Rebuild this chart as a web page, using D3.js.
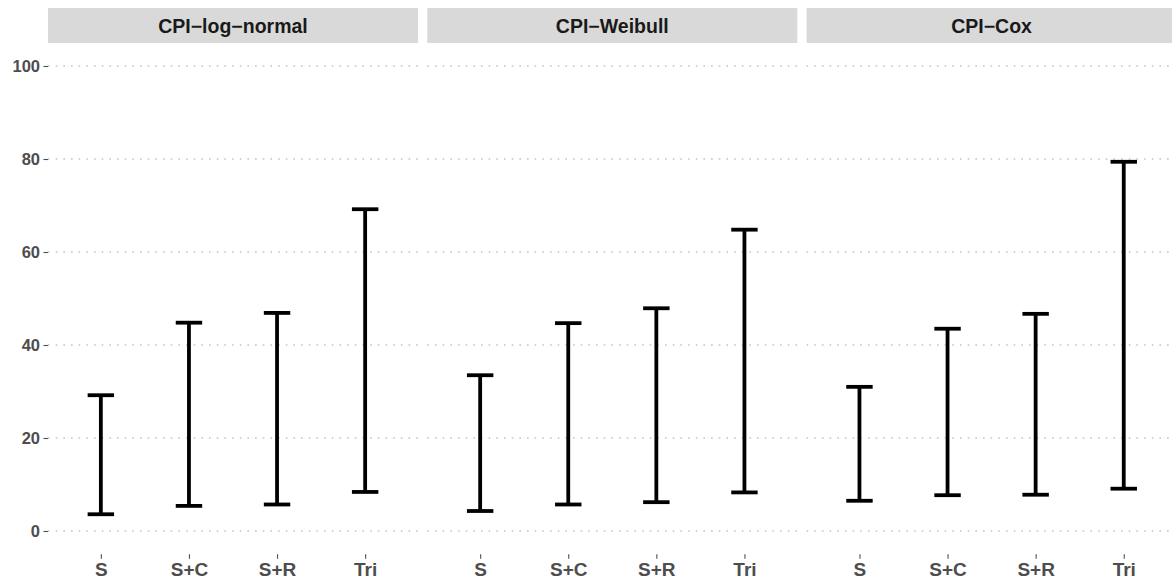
<!DOCTYPE html>
<html>
<head>
<meta charset="utf-8">
<script src="https://cdn.jsdelivr.net/npm/d3@7"></script>
<style>
    body { margin: 0; background: #fff; }
    text { font-family: "Liberation Sans", Arial, sans-serif; font-weight: bold; }
</style>
</head>
<body>
<script>
// data
var models = ["CPI\u2212log\u2212normal", "CPI\u2212Weibull", "CPI\u2212Cox"];
var methods = ["S", "S+C", "S+R", "Tri"];
var lowerLogNormal = [3.6, 5.4, 5.7, 8.4];
var upperLogNormal = [29.2, 44.8, 46.9, 69.2];
var lowerWeibull = [4.3, 5.7, 6.2, 8.3];
var upperWeibull = [33.5, 44.7, 47.9, 64.8];
var lowerCox = [6.5, 7.7, 7.8, 9.1];
var upperCox = [31.0, 43.5, 46.7, 79.4];
var yTicks = [0, 20, 40, 60, 80, 100];

var lowers = [lowerLogNormal, lowerWeibull, lowerCox];
var uppers = [upperLogNormal, upperWeibull, upperCox];

var panels = models.map(function (m, i) {
    return {
        model: m,
        bars: methods.map(function (k, j) {
            return { method: k, lo: lowers[i][j], hi: uppers[i][j] };
        })
    };
});

var w = 1172,
    h = 582;
var left = 48,
    panelW = 370,
    gap = 9.3,
    stripTop = 8,
    stripH = 35,
    plotTop = 42.75,
    plotBottom = 554.25;

var svg = d3.select('body')
    .append('svg')
    .attr('width', w)
    .attr('height', h);

var y = d3.scaleLinear()
    .domain([-5, 105])
    .range([plotBottom, plotTop]);

var x = d3.scalePoint()
    .domain(methods)
    .range([0, panelW])
    .padding(0.6);

var capHalf = x.step() * 0.15;

// y axis labels (only once, on the left)
var yAxis = svg.append('g')
    .attr('class', 'y-axis')
    .attr('transform', 'translate(' + left + ',0)')
    .call(d3.axisLeft(y).tickValues(yTicks).tickSize(4.5).tickPadding(3.5));
yAxis.select('.domain').remove();
yAxis.selectAll('line').attr('stroke', '#4d4d4d').attr('stroke-width', 1.1);
yAxis.selectAll('text')
    .attr('fill', '#4d4d4d')
    .style('font-size', '16.5px')
    .style('font-family', '"Liberation Sans", Arial, sans-serif')
    .style('font-weight', 'bold');

var panel = svg.selectAll('.panel')
    .data(panels)
    .enter()
    .append('g')
    .attr('class', 'panel')
    .attr('transform', function (d, i) {
        return 'translate(' + (left + i * (panelW + gap)) + ',0)';
    });

// strip header
panel.append('rect')
    .attr('x', 0)
    .attr('y', stripTop)
    .attr('width', panelW)
    .attr('height', stripH)
    .style('fill', '#d9d9d9');

panel.append('text')
    .attr('x', panelW / 2)
    .attr('y', stripTop + stripH / 2)
    .attr('dy', '0.36em')
    .attr('text-anchor', 'middle')
    .style('font-size', '19.5px')
    .style('fill', '#1a1a1a')
    .text(function (d) { return d.model; });

// dotted gridlines
panel.selectAll('.grid')
    .data(yTicks)
    .enter()
    .append('line')
    .attr('class', 'grid')
    .attr('x1', 0)
    .attr('x2', panelW)
    .attr('y1', function (d) { return y(d); })
    .attr('y2', function (d) { return y(d); })
    .style('stroke', '#c4c4c4')
    .style('stroke-width', 1.6)
    .style('stroke-dasharray', '1.6 6.07');

// x axis
panel.each(function () {
    var g = d3.select(this).append('g')
        .attr('class', 'x-axis')
        .attr('transform', 'translate(0,' + plotBottom + ')')
        .call(d3.axisBottom(x).tickSize(4.5).tickPadding(4));
    g.select('.domain').remove();
    g.selectAll('line').attr('stroke', '#4d4d4d').attr('stroke-width', 1.1);
    g.selectAll('text')
        .attr('fill', '#4d4d4d')
        .style('font-size', '19px')
        .style('font-family', '"Liberation Sans", Arial, sans-serif')
        .style('font-weight', 'bold');
});

// error bars
var bar = panel.selectAll('.bar')
    .data(function (d) { return d.bars; })
    .enter()
    .append('g')
    .attr('class', 'bar')
    .style('stroke', '#000')
    .style('stroke-width', 3.8);

bar.append('line')
    .attr('x1', function (d) { return x(d.method); })
    .attr('x2', function (d) { return x(d.method); })
    .attr('y1', function (d) { return y(d.lo); })
    .attr('y2', function (d) { return y(d.hi); });

bar.append('line')
    .attr('x1', function (d) { return x(d.method) - capHalf; })
    .attr('x2', function (d) { return x(d.method) + capHalf; })
    .attr('y1', function (d) { return y(d.hi); })
    .attr('y2', function (d) { return y(d.hi); });

bar.append('line')
    .attr('x1', function (d) { return x(d.method) - capHalf; })
    .attr('x2', function (d) { return x(d.method) + capHalf; })
    .attr('y1', function (d) { return y(d.lo); })
    .attr('y2', function (d) { return y(d.lo); });
</script>
</body>
</html>
